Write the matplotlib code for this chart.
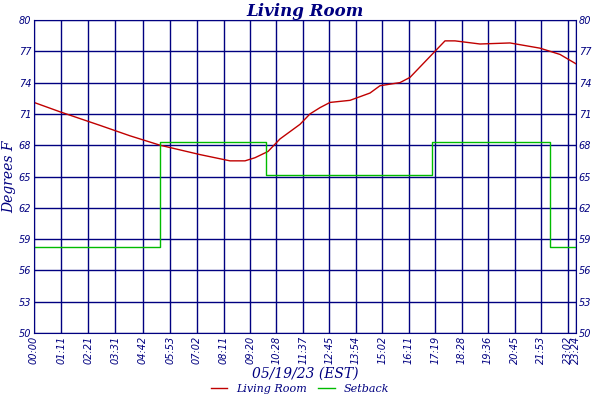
import matplotlib
matplotlib.use("Agg")
import matplotlib.pyplot as plt

tick_min = [0,71,141,211,282,353,422,491,560,628,697,765,834,902,971,1039,1108,1176,1245,1313,1382,1404]
tick_lbl = ["00:00","01:11","02:21","03:31","04:42","05:53","07:02","08:11","09:20","10:28","11:37",
            "12:45","13:54","15:02","16:11","17:19","18:28","19:36","20:45","21:53","23:02","23:24"]
yticks = [50,53,56,59,62,65,68,71,74,77,80]

room_px = [34,60,100,130,160,200,230,245,255,268,280,300,310,320,330,350,370,380,400,410,425,435,445,455,480,510,540,560,576]
room_t = [72.1,71.2,69.9,68.9,68.0,67.1,66.5,66.5,66.8,67.4,68.6,70.0,71.0,71.6,72.1,72.3,73.0,73.7,74.0,74.5,76.0,77.0,78.0,78.0,77.7,77.8,77.3,76.7,75.8]
room_min = [(p-34)/542*1404 for p in room_px]

set_min = [0,326,326,601,601,1031,1031,1337,1337,1404]
set_t = [58.2,58.2,68.3,68.3,65.1,65.1,68.3,68.3,58.2,58.2]

navy = "#000080"
fig = plt.figure(figsize=(6,4), dpi=100)
ax = fig.add_axes([34/600, 1-333/400, 542/600, 313/400])
ax.plot(room_min, room_t, color="#c00000", lw=1, label="Living Room")
ax.plot(set_min, set_t, color="#00bb00", lw=1, label="Setback")
ax.set_xlim(0,1404); ax.set_ylim(50,80)
ax.set_xticks(tick_min); ax.set_xticklabels(tick_lbl, rotation=90, fontsize=7, color=navy, style="italic")
ax.set_yticks(yticks); ax.set_yticklabels(yticks, fontsize=7, color=navy, style="italic")
ax.tick_params(length=0, labelright=True, pad=2)
ax.grid(True, color=navy, lw=1)
ax.set_axisbelow(True)
for s in ax.spines.values(): s.set_color(navy)
ff = "DejaVu Serif"
ax.set_title("Living Room", fontsize=12, color=navy, style="italic", weight="bold", family=ff, pad=3)
ax.set_ylabel("Degrees F", fontsize=10, color=navy, style="italic", family=ff, labelpad=2)
ax.set_xlabel("05/19/23 (EST)", fontsize=10, color=navy, style="italic", family=ff, labelpad=2)
fig.legend(loc="lower center", bbox_to_anchor=(0.5,-0.01), ncol=2, frameon=False,
           prop={"style":"italic","family":ff,"size":8}, labelcolor=navy, handlelength=1.5, columnspacing=1)
fig.savefig("out.png")
